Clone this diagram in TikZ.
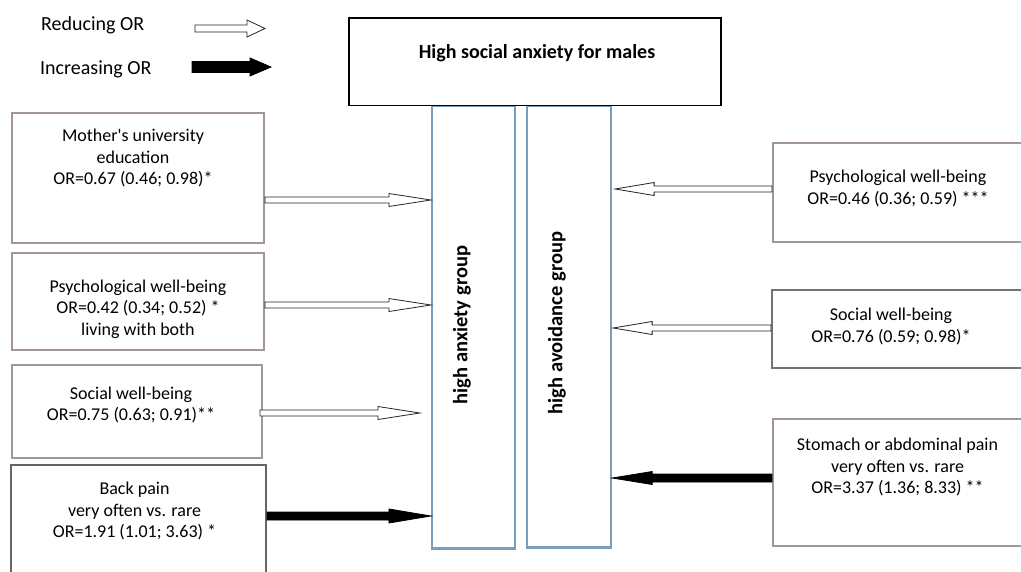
\documentclass[tikz,border=0pt]{standalone}
\usepackage{fontspec}
\setmainfont{Carlito}[Ligatures=TeXOff]
\usepackage{tikz}
\usetikzlibrary{calc,positioning}

\definecolor{framegray}{RGB}{165,150,150}
\definecolor{groupblue}{RGB}{120,158,186}

\begin{document}
\begin{tikzpicture}[x=1pt, y=-1pt,
		txt/.style={font=\fontsize{18}{21.5}\selectfont, align=center, inner sep=0pt},
		frame/.style={draw=framegray, line width=2pt, inner sep=0pt},
		group/.style={draw=groupblue, line width=2.2pt, inner sep=0pt},
		blockarrow/.style n args={3}{line width=0.8pt, line join=miter, to path={
				let \p1=(\tikztostart), \p2=(\tikztotarget), \n1={sign(\x2-\x1)*#3} in
				(\x1,\y1+#1) -- (\x2-\n1,\y1+#1) -- (\x2-\n1,\y1+#2) -- (\x2,\y1)
				-- (\x2-\n1,\y1-#2) -- (\x2-\n1,\y1-#1) -- (\x1,\y1-#1) -- cycle}},
		reducing/.style={draw=black!85, fill=white},
		increasing/.style={draw=black, fill=black}]
			\clip (0,0) rectangle (1021,571);
			\fill[white] (0,0) rectangle (1021,571);
			
			% legend
			\node[txt, anchor=west, font=\fontsize{20}{22}\selectfont] (redtxt) at (41,25) {Reducing OR};
			\node[txt, anchor=west, font=\fontsize{20}{22}\selectfont] (inctxt) at (40,69) {Increasing OR};
			\coordinate (red1) at (195,28.5);
			\coordinate (red2) at (265,28.5);
			\coordinate (inc1) at (192,67);
			\coordinate (inc2) at (271,67);
			\draw[reducing, blockarrow={3.5pt}{8.5pt}{18pt}] (red1) to (red2);
			\draw[increasing, blockarrow={5.5pt}{9pt}{21pt}] (inc1) to (inc2);
			
			% outcome and groups
			\node[group, minimum width=83, minimum height=443] (anx) at (473.5,327) {};
			\node[group, minimum width=84, minimum height=442] (avo) at (569,326.5) {};
			\node[draw, line width=1.3pt, fill=white, inner sep=0pt, minimum width=372, minimum height=87.5] (top) at (535,61.75) {};
			\node[txt, font=\bfseries\fontsize{20}{22}\selectfont] (toptxt) at (537,53) {High social anxiety for males};
			\node[txt, font=\bfseries\fontsize{20.5}{22}\selectfont, rotate=90] (anxtxt) at (462,325) {high anxiety group};
			\node[txt, font=\bfseries\fontsize{20.5}{22}\selectfont, rotate=90] (avotxt) at (557,323) {high avoidance group};
			
			% left side
			\node[frame, minimum width=252, minimum height=130] (m1) at (138,178) {};
			\node[txt] (m1txt) at (133,158) {Mother's university\\education\\OR=0.67 (0.46; 0.98)*};
			\node[frame, minimum width=252, minimum height=97] (m2) at (138,301.5) {};
			\node[txt] (m2txt) at (138,309) {Psychological well-being\\OR=0.42 (0.34; 0.52) *\\living with both};
			\node[frame, minimum width=250, minimum height=93] (m3) at (137,411.5) {};
			\node[txt] (m3txt) at (131,405) {Social well-being\\OR=0.75 (0.63; 0.91)**};
			\node[frame, draw=black!60, minimum width=255, minimum height=135] (m4) at (138.5,532.5) {};
			\node[txt] (m4txt) at (134.5,511) {Back pain\\very often vs. rare\\OR=1.91 (1.01; 3.63) *};
			
			\draw[reducing, blockarrow={3pt}{6.5pt}{42pt}] (m1.east |- 0,200) to (anx.west |- 0,200);
			\draw[reducing, blockarrow={3pt}{6.5pt}{42pt}] (m2.east |- 0,305) to (anx.west |- 0,305);
			\draw[reducing, blockarrow={3pt}{6.5pt}{42pt}] ([xshift=-3]m3.east |- 0,413) to ([xshift=-11]anx.west |- 0,413);
			\draw[increasing, blockarrow={4pt}{7pt}{42pt}] (m4.east |- 0,516) to (anx.west |- 0,516);
			
			% right side
			\node[frame, minimum width=267, minimum height=99] (r1) at (906.5,192.5) {};
			\node[txt] (r1txt) at (898,188.5) {Psychological well-being\\OR=0.46 (0.36; 0.59) ***};
			\node[frame, draw=black!55, minimum width=268, minimum height=78] (r2) at (906,329) {};
			\node[txt] (r2txt) at (891,326.5) {Social well-being\\OR=0.76 (0.59; 0.98)*};
			\node[frame, minimum width=267, minimum height=127] (r3) at (906.5,482.5) {};
			\node[txt] (r3txt) at (897.5,467) {Stomach or abdominal pain\\very often vs. rare\\OR=3.37 (1.36; 8.33) **};
			
			\draw[reducing, blockarrow={3pt}{6.5pt}{39pt}] (r1.west |- 0,189) to ([xshift=3]avo.east |- 0,189);
			\draw[reducing, blockarrow={3pt}{6.5pt}{39pt}] (r2.west |- 0,328) to ([xshift=1]avo.east |- 0,328);
			\draw[increasing, blockarrow={4pt}{6.5pt}{40pt}] (r3.west |- 0,478) to (avo.east |- 0,478);
			
\end{tikzpicture}
\end{document}
